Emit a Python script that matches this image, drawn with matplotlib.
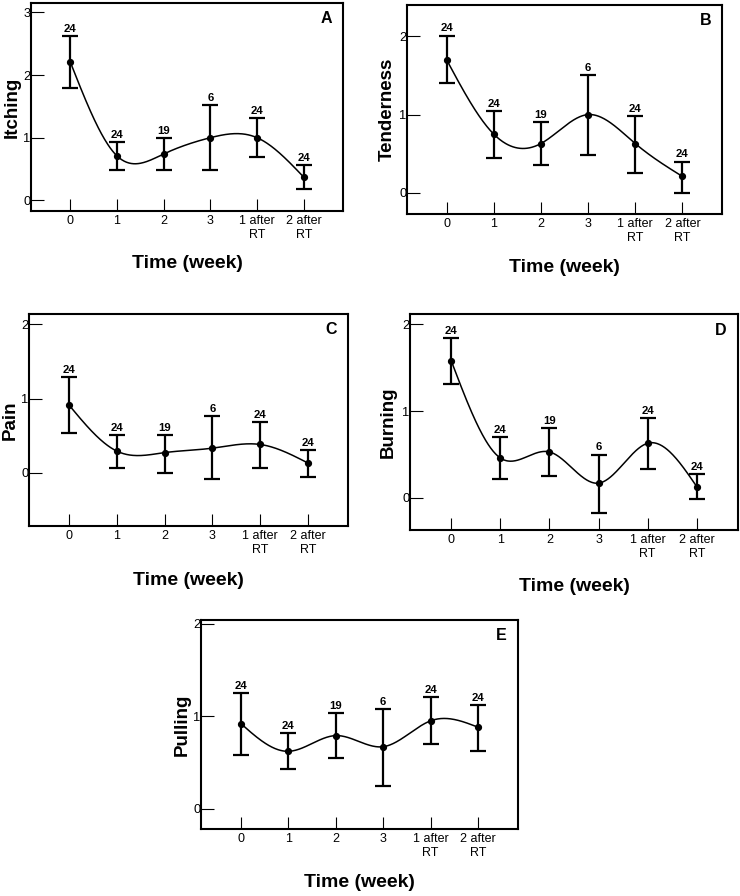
import numpy as np
import matplotlib
matplotlib.use('Agg')
import matplotlib.pyplot as plt

plt.rcParams['font.family'] = ['Liberation Sans', 'DejaVu Sans']

# Data
weeks = ['0', '1', '2', '3', '1 after\nRT', '2 after\nRT']
counts = [24, 24, 19, 6, 24, 24]

itching_mean = [2.21, 0.71, 0.74, 1.00, 1.00, 0.37]
itching_low = [1.79, 0.48, 0.48, 0.48, 0.69, 0.18]
itching_high = [2.62, 0.93, 0.99, 1.52, 1.32, 0.57]

tender_mean = [1.70, 0.75, 0.63, 1.00, 0.63, 0.21]
tender_low = [1.40, 0.45, 0.36, 0.48, 0.26, 0.00]
tender_high = [2.01, 1.04, 0.90, 1.51, 0.98, 0.40]

pain_mean = [0.91, 0.29, 0.27, 0.33, 0.38, 0.13]
pain_low = [0.54, 0.06, 0.00, -0.09, 0.06, -0.06]
pain_high = [1.29, 0.51, 0.51, 0.76, 0.68, 0.30]

burning_mean = [1.58, 0.46, 0.53, 0.17, 0.63, 0.13]
burning_low = [1.31, 0.22, 0.25, -0.17, 0.33, -0.01]
burning_high = [1.84, 0.70, 0.81, 0.50, 0.92, 0.27]

pulling_mean = [0.92, 0.62, 0.79, 0.67, 0.95, 0.88]
pulling_low = [0.58, 0.43, 0.55, 0.25, 0.70, 0.62]
pulling_high = [1.25, 0.82, 1.03, 1.08, 1.21, 1.12]


def natural_spline(x, y, n=300):
    x = np.asarray(x, float)
    y = np.asarray(y, float)
    k = len(x)
    h = np.diff(x)
    A = np.zeros((k, k))
    r = np.zeros(k)
    A[0, 0] = 1
    A[-1, -1] = 1
    for i in range(1, k - 1):
        A[i, i - 1] = h[i - 1]
        A[i, i] = 2 * (h[i - 1] + h[i])
        A[i, i + 1] = h[i]
        r[i] = 6 * ((y[i + 1] - y[i]) / h[i] - (y[i] - y[i - 1]) / h[i - 1])
    M = np.linalg.solve(A, r)
    xs = np.linspace(x[0], x[-1], n)
    idx = np.clip(np.searchsorted(x, xs) - 1, 0, k - 2)
    x0, x1 = x[idx], x[idx + 1]
    hh = x1 - x0
    a = (x1 - xs) / hh
    b = (xs - x0) / hh
    ys = (a * y[idx] + b * y[idx + 1]
          + ((a ** 3 - a) * M[idx] + (b ** 3 - b) * M[idx + 1]) * hh ** 2 / 6)
    return xs, ys


fig = plt.figure(figsize=(7.4, 8.96), dpi=100)
W, H = 740, 896


def panel(rect, mean, low, high, ylabel, letter, ylim, yticks, lab_x, lab_y):
    l, r, t, b = rect
    ax = fig.add_axes([l / W, 1 - b / H, (r - l) / W, (b - t) / H])
    x = np.arange(len(weeks))
    mean = np.array(mean)
    yerr = [mean - np.array(low), np.array(high) - mean]
    ax.errorbar(x, mean, yerr=yerr, fmt='none', ecolor='black',
                elinewidth=1.6, capsize=5.5, capthick=1.6)
    xs, ys = natural_spline(x, mean)
    ax.plot(xs, ys, color='black', lw=1.1)
    ax.plot(x, mean, 'o', color='black', ms=4.2)
    for xi, hi, n in zip(x, high, counts):
        ax.annotate(str(n), (xi, hi), xytext=(0, 1.5), textcoords='offset points',
                    ha='center', va='bottom', fontsize=8.2, fontweight='bold')
    ax.set_xlim(-0.84, 5.84)
    ax.set_ylim(*ylim)
    ax.set_yticks(yticks)
    ax.set_xticks(x)
    ax.set_xticklabels(weeks, fontsize=9, linespacing=1.15)
    ax.tick_params(axis='y', direction='in', length=9, width=0.8, pad=0.5,
                   labelsize=9.3, colors='black')
    ax.tick_params(axis='x', direction='in', length=9, width=0.8, pad=3)
    for s in ax.spines.values():
        s.set_linewidth(1.5)
    ax.set_ylabel(ylabel, fontsize=13.5, fontweight='bold', va='center')
    ax.yaxis.set_label_coords(lab_x, 0.5)
    ax.set_xlabel('Time (week)', fontsize=14, fontweight='bold', va='center')
    ax.xaxis.set_label_coords(0.5, lab_y)
    ax.text(0.947, 0.925, letter, transform=ax.transAxes, ha='center', va='center',
            fontsize=11.5, fontweight='bold')
    return ax


panel((31, 343, 3, 211), itching_mean, itching_low, itching_high, 'Itching', 'A',
      (-0.17, 3.15), [0, 1, 2, 3], -0.061, -0.25)
panel((407, 722, 5, 214), tender_mean, tender_low, tender_high, 'Tenderness', 'B',
      (-0.27, 2.40), [0, 1, 2], -0.063, -0.258)
panel((29, 348, 314, 526), pain_mean, pain_low, pain_high, 'Pain', 'C',
      (-0.72, 2.14), [0, 1, 2], -0.06, -0.255)
panel((410, 738, 314, 530), burning_mean, burning_low, burning_high, 'Burning', 'D',
      (-0.37, 2.12), [0, 1, 2], -0.067, -0.262)
panel((201, 518, 620, 829), pulling_mean, pulling_low, pulling_high, 'Pulling', 'E',
      (-0.22, 2.04), [0, 1, 2], -0.06, -0.258)

fig.savefig('out.png', dpi=100)
